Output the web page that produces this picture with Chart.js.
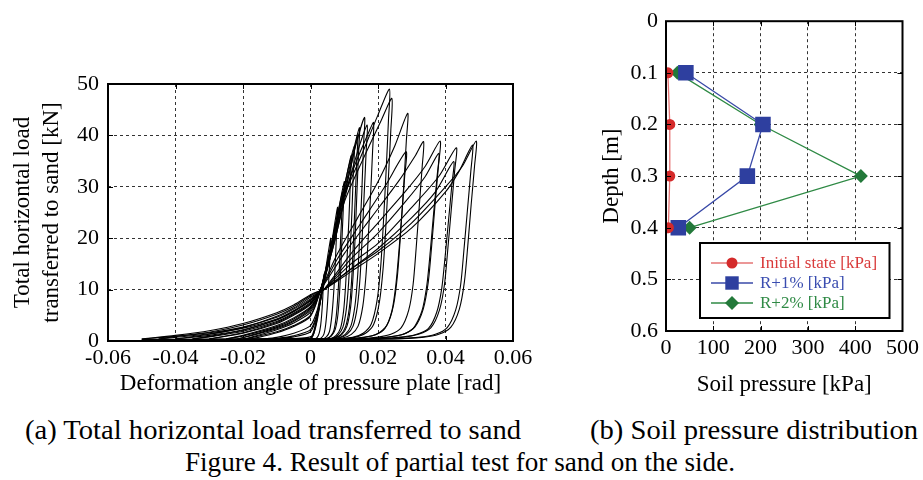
<!DOCTYPE html>
<html><head><meta charset="utf-8">
<script src="https://cdn.jsdelivr.net/npm/chart.js@4.4.1/dist/chart.umd.min.js"></script>
<style>
html,body{margin:0;padding:0;background:#fff;width:923px;height:480px;overflow:hidden;font-family:'Liberation Serif','Times New Roman',serif;}
#c1{position:absolute;left:0;top:60px;}
#c2{position:absolute;left:560px;top:0;}
.cap{position:absolute;white-space:nowrap;font-size:27px;line-height:32px;color:#000;transform-origin:left top;}
</style></head><body>
<canvas id="c1" width="545" height="340"></canvas>
<canvas id="c2" width="363" height="400"></canvas>
<div class="cap" id="capA" data-l="25" data-w="496" style="top:414px">(a) Total horizontal load transferred to sand</div>
<div class="cap" id="capB" data-l="590" data-w="328" style="top:414px">(b) Soil pressure distribution</div>
<div class="cap" id="capF" data-l="185" data-w="550" style="top:446px">Figure 4. Result of partial test for sand on the side.</div>
<script>
// ---------- Left chart: hysteresis cycles [deformation angle rad, load kN] ----------
const cycA = [[0,0.2],[0.001,1.5],[0.002,4.5],[0.003,8],[0.004,13],[0.0038,11],[0.0036,8],[0.0033,5],[0.003,3],[0.0026,1.6],[0.002,0.7],[0.001,0.3],[0,0.2]];
const cycB = [[-0.006,0.2],[0,0.4],[0.001,1.5],[0.002,4],[0.003,8],[0.0045,14],[0.006,20],[0.0058,17],[0.0055,13],[0.0052,9],[0.0049,6],[0.0045,3.2],[0.004,1.4],[0.0032,0.6],[0.002,0.3],[-0.006,0.2]];
const cycC = [[-0.01,0.2],[0,0.8],[0.001,2],[0.002,5],[0.003,8],[0.004,11],[0.006,18],[0.008,26],[0.0078,22.5],[0.0075,17.5],[0.0071,12],[0.0067,7.8],[0.0062,4.2],[0.0056,1.8],[0.0047,0.8],[0.0035,0.4],[0.001,0.3],[-0.01,0.2]];
const cycW = [[-0.012,0.3],[-0.005,1],[0,2.2],[0.002,5.5],[0.004,11.5],[0.0065,19.5],[0.0095,29],[0.0093,25],[0.0089,19.5],[0.0085,13.5],[0.0081,8.7],[0.0076,4.7],[0.0069,2],[0.0059,0.9],[0.0045,0.4],[0.002,0.3],[-0.012,0.3]];
const cycD = [[-0.012,0.3],[-0.005,0.8],[0,1.8],[0.002,5],[0.003,8],[0.004,12],[0.007,21],[0.01,31],[0.0098,27],[0.0094,21],[0.009,14.5],[0.0086,9.3],[0.0081,5],[0.0073,2.2],[0.0062,1],[0.0048,0.5],[0.002,0.3],[-0.012,0.3]];
const cycE = [[-0.015,0.3],[-0.01,0.7],[-0.005,1.5],[0,3],[0.002,6],[0.003,9],[0.005,14],[0.008,23],[0.012,36],[0.0118,31],[0.0114,24],[0.0109,17],[0.0104,10.8],[0.0098,5.8],[0.0089,2.5],[0.0076,1.1],[0.006,0.5],[0.003,0.3],[-0.015,0.3]];
const cycT = [[-0.018,0.3],[-0.01,1.6],[-0.005,2.8],[0,4.8],[0.003,10],[0.006,18],[0.009,27],[0.011,33],[0.013,38],[0.0127,33],[0.0123,25.5],[0.0118,18],[0.0113,11.4],[0.0106,6.1],[0.0096,2.7],[0.0082,1.2],[0.0065,0.5],[0.004,0.3],[-0.018,0.3]];
const cycF = [[-0.02,0.3],[-0.01,1.8],[-0.005,3],[0,5],[0.003,10],[0.006,17],[0.009,26],[0.012,34],[0.014,40],[0.0137,35],[0.0132,27],[0.0127,19],[0.0122,12],[0.0115,6.4],[0.0104,2.8],[0.0089,1.2],[0.007,0.6],[0.004,0.3],[-0.02,0.3]];
const cycU = [[-0.022,0.3],[-0.01,2.4],[-0.005,3.8],[0,6],[0.003,10],[0.0055,16],[0.009,26],[0.012,35],[0.0145,41.5],[0.0142,36],[0.0137,28],[0.0132,19.8],[0.0126,12.5],[0.0119,6.7],[0.0108,2.9],[0.0092,1.2],[0.0072,0.6],[0.0045,0.3],[-0.022,0.3]];
const cycG = [[-0.02,0.3],[-0.01,2.2],[-0.005,3.5],[0,5.6],[0.003,10],[0.006,17],[0.01,28],[0.013,37],[0.016,43.5],[0.0157,38],[0.0152,29],[0.0146,20.5],[0.014,13],[0.0132,7],[0.012,3],[0.0103,1.3],[0.008,0.6],[0.005,0.4],[-0.02,0.3]];
const cycV = [[-0.022,0.3],[-0.01,2.6],[-0.005,4],[0,6.3],[0.003,10],[0.007,19],[0.011,30],[0.0145,38],[0.0168,42],[0.0165,37],[0.0159,28.5],[0.0153,20],[0.0147,12.5],[0.0139,6.8],[0.0126,2.9],[0.0108,1.3],[0.0085,0.6],[0.005,0.3],[-0.022,0.3]];
const cycH = [[-0.025,0.4],[-0.02,1.1],[-0.01,3],[-0.005,4.5],[0,6.7],[0.003,10],[0.008,24],[0.013,34],[0.0175,41],[0.0187,42.5],[0.0184,37],[0.0178,28.5],[0.0171,20],[0.0164,12.5],[0.0155,6.8],[0.0141,2.9],[0.0121,1.3],[0.0095,0.6],[0.006,0.4],[-0.025,0.3]];
const cycI = [[-0.025,0.4],[-0.02,1],[-0.01,2.8],[-0.005,4.3],[0,6.5],[0.003,10],[0.006,18],[0.0086,26],[0.015,36],[0.02,44],[0.0234,49],[0.0231,43],[0.0224,33],[0.0216,23],[0.0208,14.5],[0.0197,7.8],[0.018,3.3],[0.0156,1.5],[0.0125,0.7],[0.008,0.4],[-0.025,0.3]];
const cycJ = [[-0.03,0.4],[-0.02,1.6],[-0.01,3.6],[-0.005,5.2],[0,7.3],[0.003,10],[0.007,19],[0.01,27],[0.016,36],[0.021,43],[0.0241,47.2],[0.0238,41],[0.0231,32],[0.0223,22],[0.0215,14],[0.0204,7.5],[0.0187,3.2],[0.0163,1.5],[0.013,0.7],[0.009,0.4],[-0.03,0.3]];
const cycK = [[-0.03,0.4],[-0.02,1.5],[-0.01,3.4],[-0.005,5],[0,7.1],[0.003,10],[0.008,17],[0.014,24],[0.02,31],[0.025,38],[0.0288,44.3],[0.0284,39],[0.0276,30],[0.0267,21],[0.0258,13],[0.0246,7],[0.0226,3],[0.0198,1.4],[0.016,0.7],[0.011,0.4],[-0.03,0.3]];
const cycL = [[-0.035,0.4],[-0.03,0.9],[-0.02,2.1],[-0.01,4.1],[-0.005,5.7],[0,7.8],[0.003,10],[0.008,16],[0.015,23],[0.022,30],[0.0283,36.8],[0.0279,32],[0.0271,25],[0.0262,17.5],[0.0253,11],[0.0241,5.8],[0.0221,2.5],[0.0193,1.2],[0.0155,0.7],[0.011,0.4],[-0.035,0.3]];
const cycM = [[-0.035,0.4],[-0.03,0.8],[-0.02,1.9],[-0.01,3.8],[-0.005,5.4],[0,7.5],[0.003,10],[0.01,17],[0.018,24],[0.026,31],[0.031,36],[0.0335,38.8],[0.0331,34],[0.0322,26],[0.0313,18],[0.0304,11],[0.0291,6],[0.0269,2.6],[0.0238,1.3],[0.0195,0.7],[0.014,0.4],[-0.035,0.3]];
const cycN = [[-0.04,0.4],[-0.03,1.1],[-0.02,2.2],[-0.01,4.2],[-0.005,5.8],[0,7.9],[0.002,9],[0.004,10],[0.012,17],[0.02,23],[0.028,29],[0.034,34],[0.0384,38.9],[0.0379,34],[0.0369,26.5],[0.0359,18.5],[0.0349,11.5],[0.0334,6.2],[0.0309,2.7],[0.0275,1.3],[0.0225,0.7],[0.016,0.4],[-0.04,0.3]];
const cycO = [[-0.04,0.4],[-0.03,1.3],[-0.02,2.6],[-0.01,4.8],[-0.005,6.4],[0,8.5],[0.002,9.3],[0.004,10],[0.012,16],[0.02,21],[0.028,27],[0.034,32],[0.038,36.5],[0.0375,32],[0.0365,25],[0.0355,17.5],[0.0345,11],[0.033,5.8],[0.0305,2.5],[0.027,1.2],[0.022,0.7],[0.016,0.4],[-0.04,0.3]];
const cycP = [[-0.045,0.4],[-0.04,0.7],[-0.03,1.4],[-0.02,2.5],[-0.01,4.3],[-0.005,5.9],[0,8],[0.002,9.1],[0.004,10],[0.012,15],[0.02,19],[0.03,26],[0.038,32],[0.0432,37.6],[0.0427,33],[0.0417,25.5],[0.0407,18],[0.0397,11],[0.0382,6],[0.0357,2.6],[0.032,1.3],[0.027,0.7],[0.02,0.4],[-0.045,0.3]];
const cycQ = [[-0.045,0.4],[-0.04,0.9],[-0.03,1.7],[-0.02,3.1],[-0.01,5.2],[-0.005,6.7],[0,8.8],[0.002,9.5],[0.004,10],[0.012,14],[0.02,18],[0.03,24],[0.037,29],[0.0424,34.9],[0.0419,30.5],[0.0409,23.5],[0.0399,16.5],[0.0389,10.3],[0.0374,5.6],[0.0349,2.4],[0.031,1.2],[0.026,0.7],[0.019,0.4],[-0.045,0.3]];
const cycR = [[-0.05,0.4],[-0.04,0.9],[-0.03,1.6],[-0.02,2.7],[-0.01,4.6],[-0.005,6.2],[0,8.2],[0.002,9.2],[0.004,10],[0.012,14],[0.02,17.5],[0.03,23],[0.04,30],[0.045,34],[0.0491,38.9],[0.0486,34],[0.0476,26.5],[0.0466,18.5],[0.0456,11.5],[0.0441,6.2],[0.0416,2.7],[0.038,1.3],[0.033,0.7],[0.025,0.4],[-0.05,0.3]];
const cycS = [[-0.05,0.4],[-0.04,1.1],[-0.03,2],[-0.02,3.4],[-0.01,5.5],[-0.005,7],[0,9],[0.002,9.6],[0.004,10],[0.012,13.5],[0.02,17],[0.03,22],[0.04,29],[0.044,33],[0.048,38.1],[0.0475,33],[0.0465,25.5],[0.0455,18],[0.0445,11],[0.043,6],[0.0405,2.6],[0.037,1.3],[0.032,0.7],[0.024,0.4],[-0.05,0.3]];
const cycles = [cycA,cycB,cycC,cycW,cycD,cycE,cycT,cycF,cycU,cycG,cycV,cycH,cycI,cycJ,cycK,cycL,cycM,cycN,cycO,cycP,cycQ,cycR,cycS];

const leftXTicks = [-0.06,-0.04,-0.02,0,0.02,0.04,0.06];
const leftXLabels = ['-0.06','-0.04','-0.02','0','0.02','0.04','0.06'];
const leftYTicks = [0,10,20,30,40,50];
const leftYLabels = ['0','10','20','30','40','50'];

// ---------- Right chart: soil pressure distribution ----------
const depths = [0.1,0.2,0.3,0.4];
const initialState = [4,8,8,5];
const rPlus1 = [42,205,172,26];
const rPlus2 = [24,200,412,50];
const seriesNames = ['Initial state [kPa]','R+1% [kPa]','R+2% [kPa]'];
const rightXTicks = [0,100,200,300,400,500];
const rightXLabels = ['0','100','200','300','400','500'];
const rightYTicks = [0,0.1,0.2,0.3,0.4,0.5,0.6];
const rightYLabels = ['0','0.1','0.2','0.3','0.4','0.5','0.6'];

const FONT = "'Liberation Serif','Times New Roman',serif";
const TICK_SIZE = 22, TITLE_SIZE = 23;

const framePlugin = {
  id:'frame',
  afterDatasetsDraw(chart){
    const {ctx, chartArea:a, scales} = chart;
    ctx.save();
    ctx.strokeStyle='#000'; ctx.lineWidth=1;
    const tl=5;
    scales.x.ticks.forEach(t=>{
      const px=Math.round(scales.x.getPixelForValue(t.value))+0.5;
      if (px<=a.left+2||px>=a.right-2) return;
      ctx.beginPath(); ctx.moveTo(px,a.bottom); ctx.lineTo(px,a.bottom-tl); ctx.moveTo(px,a.top); ctx.lineTo(px,a.top+tl); ctx.stroke();
    });
    scales.y.ticks.forEach(t=>{
      const py=Math.round(scales.y.getPixelForValue(t.value))+0.5;
      if (py<=a.top+2||py>=a.bottom-2) return;
      ctx.beginPath(); ctx.moveTo(a.left,py); ctx.lineTo(a.left+tl,py); ctx.moveTo(a.right,py); ctx.lineTo(a.right-tl,py); ctx.stroke();
    });
    ctx.lineWidth=2;
    ctx.strokeRect(a.left,a.top,a.right-a.left,a.bottom-a.top);
    ctx.restore();
  }
};

const GRIDC = '#333';
function gridOpts(){ return {lineWidth:1, drawTicks:false, drawOnChartArea:true}; }
const borderOpts = {display:false, dash:[3,3]};

// ---------- Left chart ----------
new Chart(document.getElementById('c1'), {
  type:'scatter',
  data:{ datasets: cycles.map(c=>({
    data:c.map(p=>({x:p[0],y:p[1]})), showLine:true, borderColor:'#000', borderWidth:1.1,
    pointRadius:0, tension:0.25, fill:false }))},
  options:{
    responsive:false, animation:false,
    layout:{padding:{top:24,right:32,left:0,bottom:0}},
    plugins:{legend:{display:false}, tooltip:{enabled:false}},
    scales:{
      x:{type:'linear', min:-0.06, max:0.06, border:borderOpts,
        grid:{...gridOpts(), color:(c)=> (c.tick && (Math.abs(c.tick.value)>0.059) ? 'rgba(0,0,0,0)' : GRIDC)},
        afterBuildTicks:(s)=>{s.ticks=leftXTicks.map(v=>({value:v}));},
        afterFit:(s)=>{s.height=59;},
        ticks:{color:'#000', padding:4, font:{family:FONT,size:TICK_SIZE}, maxRotation:0,
          callback:(v,i)=>leftXLabels[i]},
        title:{display:true, text:'Deformation angle of pressure plate [rad]', color:'#000',
          font:{family:FONT,size:TITLE_SIZE}, padding:{top:0,bottom:2}}
      },
      y:{type:'linear', min:0, max:50, border:borderOpts,
        grid:{...gridOpts(), color:(c)=> (c.tick && (c.tick.value<=0 || c.tick.value>=50) ? 'rgba(0,0,0,0)' : GRIDC)},
        afterBuildTicks:(s)=>{s.ticks=leftYTicks.map(v=>({value:v}));},
        afterFit:(s)=>{s.width=108;},
        ticks:{color:'#000', padding:9, font:{family:FONT,size:TICK_SIZE}, callback:(v,i)=>leftYLabels[i]},
        title:{display:true, text:['Total horizontal load','transferred to sand [kN]'], color:'#000',
          font:{family:FONT,size:TITLE_SIZE,lineHeight:1.27}, padding:{top:8,bottom:0}}
      }
    }
  },
  plugins:[framePlugin]
});

// ---------- Right chart ----------
const COL = {
  red:{line:'rgba(220,70,70,0.75)', fill:'#d42a2a', text:'#d93a3a'},
  blue:{line:'#3a4aa8', fill:'#2e3f9f', text:'#3a4db0'},
  green:{line:'#2f8a45', fill:'#23793a', text:'#2f8a45'}
};
const rightSeries = [
  {name:seriesNames[0], vals:initialState, c:COL.red, style:'circle', r:5.5},
  {name:seriesNames[1], vals:rPlus1, c:COL.blue, style:'rect', r:11},
  {name:seriesNames[2], vals:rPlus2, c:COL.green, style:'rectRot', r:7}
];

function drawMarker(ctx, style, x, y, r, color){
  ctx.save(); ctx.fillStyle=color; ctx.beginPath();
  if (style==='circle'){ ctx.arc(x,y,r,0,Math.PI*2); }
  else if (style==='rect'){ const s=r*Math.SQRT1_2; ctx.rect(x-s,y-s,2*s,2*s); }
  else { ctx.moveTo(x-r,y); ctx.lineTo(x,y-r); ctx.lineTo(x+r,y); ctx.lineTo(x,y+r); ctx.closePath(); }
  ctx.fill(); ctx.restore();
}

const boxLegendPlugin = {
  id:'boxLegend',
  afterDraw(chart){
    const {ctx, chartArea:a} = chart;
    const x0=a.left+34, x1=a.right-13, y1=a.bottom-13, y0=a.bottom-88;
    ctx.save();
    ctx.fillStyle='#fff'; ctx.fillRect(x0,y0,x1-x0,y1-y0);
    ctx.strokeStyle='#000'; ctx.lineWidth=2; ctx.strokeRect(x0,y0,x1-x0,y1-y0);
    const rows=[y1-55,y1-35,y1-15];
    rightSeries.forEach((s,i)=>{
      const y=rows[i];
      ctx.strokeStyle=s.c.line; ctx.lineWidth=1.3;
      ctx.beginPath(); ctx.moveTo(x0+11,y); ctx.lineTo(x0+53,y); ctx.stroke();
      drawMarker(ctx, s.style, x0+32, y, s.style==='rect'?9.5:s.r, s.c.fill);
      ctx.fillStyle=s.c.text; ctx.font="17px "+FONT; ctx.textAlign='left'; ctx.textBaseline='middle';
      ctx.fillText(s.name, x0+60, y+1);
    });
    ctx.restore();
  }
};

new Chart(document.getElementById('c2'), {
  type:'scatter',
  data:{ datasets: rightSeries.map(s=>({
    label:s.name, data:s.vals.map((v,i)=>({x:v,y:depths[i]})), showLine:true,
    borderColor:s.c.line, borderWidth:1.3, backgroundColor:s.c.fill, pointBackgroundColor:s.c.fill,
    pointBorderWidth:0, pointStyle:s.style, pointRadius:s.r, tension:0 }))},
  options:{
    responsive:false, animation:false,
    layout:{padding:{top:16,right:18,left:0,bottom:0}},
    plugins:{legend:{display:false}, tooltip:{enabled:false}},
    scales:{
      x:{type:'linear', min:0, max:500, border:borderOpts,
        grid:{...gridOpts(), color:(c)=> (c.tick && (c.tick.value<=0 || c.tick.value>=500) ? 'rgba(0,0,0,0)' : GRIDC)},
        afterBuildTicks:(s)=>{s.ticks=rightXTicks.map(v=>({value:v}));},
        afterFit:(s)=>{s.height=69;},
        ticks:{color:'#000', padding:4, font:{family:FONT,size:TICK_SIZE}, maxRotation:0, callback:(v,i)=>rightXLabels[i]},
        title:{display:true, text:'Soil pressure [kPa]', color:'#000', font:{family:FONT,size:TITLE_SIZE}, padding:{top:0,bottom:1}}
      },
      y:{type:'linear', min:0, max:0.6, reverse:true, border:borderOpts,
        grid:{...gridOpts(), color:(c)=> (c.tick && (c.tick.value<=0.001 || c.tick.value>=0.599) ? 'rgba(0,0,0,0)' : GRIDC)},
        afterBuildTicks:(s)=>{s.ticks=rightYTicks.map(v=>({value:v}));},
        afterFit:(s)=>{s.width=106;},
        ticks:{color:'#000', padding:8, font:{family:FONT,size:TICK_SIZE}, callback:(v,i)=>rightYLabels[i]},
        title:{display:true, text:'Depth [m]', color:'#000', font:{family:FONT,size:TITLE_SIZE}, padding:{top:38,bottom:0}}
      }
    }
  },
  plugins:[framePlugin, boxLegendPlugin]
});

// captions: fit to measured widths
document.querySelectorAll('.cap').forEach(el=>{
  el.style.left = el.dataset.l+'px';
  const w = el.getBoundingClientRect().width;
  el.style.transform = 'scaleX('+(parseFloat(el.dataset.w)/w)+')';
});
</script>
</body></html>
